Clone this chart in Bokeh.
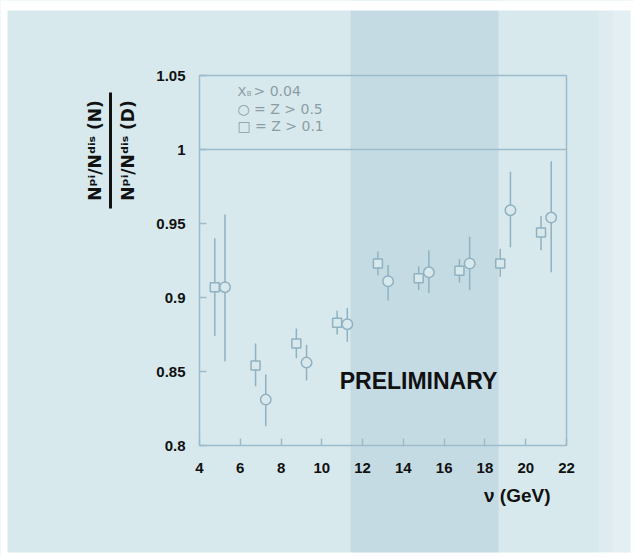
import math
from bokeh.plotting import figure
from bokeh.models import (FixedTicker, CustomJSTickFormatter, Label, Range1d,
                          BoxAnnotation)
from bokeh.embed import file_html
from bokeh.resources import INLINE

# ---- data ----
x_ticks = [4, 6, 8, 10, 12, 14, 16, 18, 20, 22]
y_ticks = [0.8, 0.85, 0.9, 0.95, 1.0, 1.05]

sq_x = [4.75, 6.75, 8.75, 10.75, 12.75, 14.75, 16.75, 18.75, 20.75]
sq_y = [0.907, 0.854, 0.869, 0.883, 0.923, 0.913, 0.918, 0.923, 0.944]
sq_lo = [0.874, 0.840, 0.859, 0.875, 0.915, 0.905, 0.910, 0.914, 0.932]
sq_hi = [0.940, 0.869, 0.879, 0.891, 0.931, 0.921, 0.926, 0.933, 0.955]

ci_x = [5.25, 7.25, 9.25, 11.25, 13.25, 15.25, 17.25, 19.25, 21.25]
ci_y = [0.907, 0.831, 0.856, 0.882, 0.911, 0.917, 0.923, 0.959, 0.954]
ci_lo = [0.857, 0.813, 0.844, 0.870, 0.898, 0.903, 0.905, 0.934, 0.917]
ci_hi = [0.956, 0.848, 0.868, 0.893, 0.922, 0.932, 0.941, 0.985, 0.992]

legend_lines = ["X", "B", "> 0.04", "○ = Z > 0.5", "□ = Z > 0.1"]

# ---- layout: the plotting box (x 4..22, y 0.8..1.05) sits inside a frame
# that fills the whole canvas, so texts outside the box are not clipped ----
W, H = 634, 557
BOX_L, BOX_R, BOX_T, BOX_B = 199, 566, 75, 445      # px on the canvas
X0, X1, Y0, Y1 = x_ticks[0], x_ticks[-1], y_ticks[0], y_ticks[-1]
sx = (BOX_R - BOX_L) / (X1 - X0)
sy = (BOX_B - BOX_T) / (Y1 - Y0)
x_range = Range1d(X0 - BOX_L / sx, X1 + (W - BOX_R) / sx)
y_range = Range1d(Y0 - (H - BOX_B) / sy, Y1 + BOX_T / sy)

# ---- style ----
BG = "#d7e9ed"
BAND = "#c5dbe4"
PALE = "#e3eff2"
FG = "#8fb1c1"
FRAME = "#9dbccb"
FONT = "Liberation Sans"

p = figure(width=W, height=H, output_backend="svg", toolbar_location=None,
           x_range=x_range, y_range=y_range,
           min_border_left=0, min_border_right=0, min_border_top=0, min_border_bottom=0)
p.background_fill_color = BG
p.border_fill_color = "white"
p.outline_line_color = None
p.grid.visible = False


def screen_box(l, r, b, t, color, alpha=1.0):
    p.add_layout(BoxAnnotation(left=l, right=r, bottom=b, top=t,
                               left_units="screen", right_units="screen",
                               top_units="screen", bottom_units="screen",
                               fill_color=color, fill_alpha=alpha, line_color=None,
                               level="underlay"))


# scanned page: darker vertical band, paler right edge, thin white margins
screen_box(350, 498, 0, H, BAND)
screen_box(598, 612, 0, H, PALE, 0.6)
screen_box(612, 630, 0, H, PALE, 1.0)
for l, r, b, t in [(0, 7, 0, H), (630, W, 0, H), (0, W, H - 10, H), (0, W, 0, 5)]:
    screen_box(l, r, b, t, "white")

# plotting box and the line at 1
p.quad(left=[X0], right=[X1], bottom=[Y0], top=[Y1], fill_color=None,
       line_color=FRAME, line_width=1.5)
p.segment(x0=[X0], y0=[1.0], x1=[X1], y1=[1.0], line_color=FRAME, line_width=1.5)

for ax in (p.xaxis[0], p.yaxis[0]):
    ax.axis_line_color = None
    ax.major_tick_line_color = FRAME
    ax.major_tick_line_width = 1.5
    ax.major_tick_in = 7
    ax.major_tick_out = 0
    ax.minor_tick_line_color = None
    ax.major_label_text_font = FONT
    ax.major_label_text_font_style = "bold"
    ax.major_label_text_font_size = "15px"
    ax.major_label_text_color = "#111111"

p.xaxis.fixed_location = Y0
p.yaxis.fixed_location = X0
p.xaxis.ticker = FixedTicker(ticks=x_ticks)
p.yaxis.ticker = FixedTicker(ticks=y_ticks)
p.xaxis.major_label_standoff = 17
p.yaxis.major_label_standoff = 14
p.yaxis.formatter = CustomJSTickFormatter(
    code="return tick.toFixed(2).replace(/0+$/, '').replace(/\\.$/, '');")

# error bars and markers
p.segment(x0=sq_x, y0=sq_lo, x1=sq_x, y1=sq_hi, line_color=FG, line_width=1.5)
p.segment(x0=ci_x, y0=ci_lo, x1=ci_x, y1=ci_hi, line_color=FG, line_width=1.5)
p.scatter(sq_x, sq_y, marker="square", size=9, line_color=FG, line_width=1.5,
          fill_color=BG)
p.scatter(ci_x, ci_y, marker="circle", size=10.5, line_color=FG, line_width=1.5,
          fill_color=BG)

# legend text (grey, inside the box)
LG = "#8b9da4"
LFONT = "DejaVu Sans"
LFS = "14px"
p.add_layout(Label(x=5.86, y=1.0395, text=legend_lines[0], text_font=LFONT,
                   text_font_size="13px", text_color=LG, text_baseline="middle"))
p.add_layout(Label(x=6.32, y=1.0372, text=legend_lines[1], text_font=LFONT,
                   text_font_size="7px", text_color=LG, text_baseline="middle"))
p.add_layout(Label(x=6.65, y=1.0395, text=legend_lines[2], text_font=LFONT,
                   text_font_size=LFS, text_color=LG, text_baseline="middle"))
p.add_layout(Label(x=5.86, y=1.0277, text=legend_lines[3], text_font=LFONT,
                   text_font_size=LFS, text_color=LG, text_baseline="middle"))
p.add_layout(Label(x=5.86, y=1.0157, text=legend_lines[4], text_font=LFONT,
                   text_font_size=LFS, text_color=LG, text_baseline="middle"))

# PRELIMINARY
p.add_layout(Label(x=14.74, y=0.8436, text="PRELIMINARY", text_font=FONT,
                   text_font_style="bold", text_font_size="23px",
                   text_color="#111111", text_align="center", text_baseline="middle"))

# x axis title (canvas px, y from bottom)
p.add_layout(Label(x=550, y=H - 495, x_units="screen", y_units="screen",
                   text="ν (GeV)", text_font=FONT, text_font_style="bold",
                   text_font_size="19px", text_color="#111111",
                   text_align="right", text_baseline="middle"))

# y axis title as a fraction
p.add_layout(Label(x=94, y=H - 150, x_units="screen", y_units="screen", angle=math.pi / 2,
                   text="Nᵖⁱ/Nᵈⁱˢ (N)", text_font="DejaVu Sans", text_font_style="bold",
                   text_font_size="17px", text_color="#111111",
                   text_align="center", text_baseline="middle"))
p.add_layout(Label(x=127, y=H - 150, x_units="screen", y_units="screen", angle=math.pi / 2,
                   text="Nᵖⁱ/Nᵈⁱˢ (D)", text_font="DejaVu Sans", text_font_style="bold",
                   text_font_size="17px", text_color="#111111",
                   text_align="center", text_baseline="middle"))
p.add_layout(BoxAnnotation(left=108.5, right=111.5, bottom=H - 208, top=H - 92,
                           left_units="screen", right_units="screen",
                           top_units="screen", bottom_units="screen",
                           fill_color="#111111", fill_alpha=1.0, line_color=None))

open("out.html", "w").write(file_html(p, INLINE))
